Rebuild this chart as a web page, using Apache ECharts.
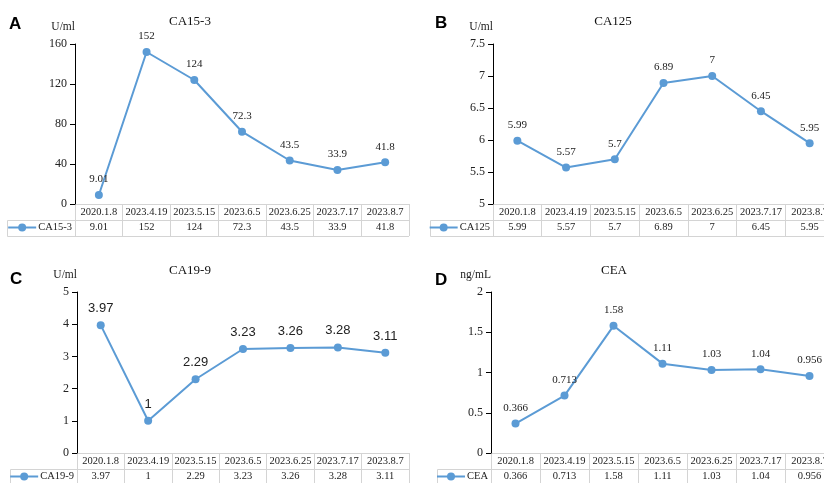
<!DOCTYPE html>
<html>
<head>
<meta charset="utf-8">
<script src="https://cdn.jsdelivr.net/npm/echarts@6/dist/echarts.min.js"></script>
<style>html,body{margin:0;padding:0;background:#fff}#c{width:824px;height:483px}</style>
</head>
<body>
<div id="c"></div>
<script>
// ---- data ----
const dates = ['2020.1.8', '2023.4.19', '2023.5.15', '2023.6.5', '2023.6.25', '2023.7.17', '2023.8.7'];
const ca153 = [9.01, 152, 124, 72.3, 43.5, 33.9, 41.8];
const ca125 = [5.99, 5.57, 5.7, 6.89, 7, 6.45, 5.95];
const ca199 = [3.97, 1, 2.29, 3.23, 3.26, 3.28, 3.11];
const cea = [0.366, 0.713, 1.58, 1.11, 1.03, 1.04, 0.956];
const seriesNames = ['CA15-3', 'CA125', 'CA19-9', 'CEA'];
const units = ['U/ml', 'U/ml', 'U/ml', 'ng/mL'];
const panelLetters = ['A', 'B', 'C', 'D'];
const yMin = [0, 5, 0, 0];
const yMax = [160, 7.5, 5, 2];
const yStep = [40, 0.5, 1, 0.5];

// ---- layout ----
const SERIF = 'Liberation Serif, Times New Roman, serif';
const SANS = 'Liberation Sans, Arial, sans-serif';
const BLUE = '#5b9bd5';
const GRIDC = '#d4d4d4';
const panels = [
  { data: ca153, left: 75, width: 334, top: 44, height: 160, titleX: 190, titleY: 15, letterX: 9, letterY: 16, cellLeft: 7, labelFont: SERIF, labelSize: 11 },
  { data: ca125, left: 493, width: 341, top: 44, height: 160, titleX: 613, titleY: 15, letterX: 435, letterY: 15, cellLeft: 430, labelFont: SERIF, labelSize: 11 },
  { data: ca199, left: 77, width: 332, top: 292, height: 161, titleX: 190, titleY: 264, letterX: 10, letterY: 271, cellLeft: 10, labelFont: SANS, labelSize: 13 },
  { data: cea, left: 491, width: 343, top: 292, height: 161, titleX: 614, titleY: 264, letterX: 435, letterY: 272, cellLeft: 437, labelFont: SERIF, labelSize: 11 }
];
const ROW = 16;

const grid = [], xAxis = [], yAxis = [], series = [], title = [], legend = [], graphic = [];
panels.forEach((p, i) => {
  const g = i * 2;
  grid.push({ left: p.left, width: p.width, top: p.top, height: p.height, outerBoundsMode: 'none', containLabel: false });
  grid.push({ left: p.left, width: p.width, top: p.top + p.height, height: ROW * 2, outerBoundsMode: 'none', containLabel: false });
  // main x axis
  xAxis.push({ type: 'category', gridIndex: g, data: dates, boundaryGap: true,
    axisLine: { show: false }, axisTick: { show: false }, axisLabel: { show: false } });
  // table: dates row
  xAxis.push({ type: 'category', gridIndex: g + 1, data: dates, position: 'top', boundaryGap: true,
    axisLine: { show: false }, axisTick: { show: false },
    splitLine: { show: true, interval: 0, lineStyle: { color: GRIDC, width: 1 } },
    axisLabel: { inside: true, interval: 0, margin: 3, fontFamily: SERIF, fontSize: 10.5, color: '#222' } });
  // table: values row
  xAxis.push({ type: 'category', gridIndex: g + 1, data: p.data.map(v => String(v)), position: 'bottom', boundaryGap: true,
    axisLine: { show: false }, axisTick: { show: false },
    axisLabel: { inside: true, interval: 0, margin: 3, fontFamily: SERIF, fontSize: 10.5, color: '#222' } });
  yAxis.push({ type: 'value', gridIndex: g, min: yMin[i], max: yMax[i], interval: yStep[i],
    name: units[i], nameLocation: 'end', nameGap: 17,
    nameTextStyle: { align: 'right', verticalAlign: 'middle', fontFamily: SERIF, fontSize: 11.5, color: '#222' },
    axisLine: { show: true, lineStyle: { color: '#000', width: 1 } },
    axisTick: { show: true, length: 5, lineStyle: { color: '#000' } },
    splitLine: { show: false },
    axisLabel: { fontFamily: SERIF, fontSize: 12, color: '#222', margin: 8 } });
  yAxis.push({ type: 'value', gridIndex: g + 1, min: 0, max: 2, interval: 1,
    axisLine: { show: false }, axisTick: { show: false }, axisLabel: { show: false },
    splitLine: { show: true, lineStyle: { color: GRIDC, width: 1 } } });
  series.push({ name: seriesNames[i], type: 'line', xAxisIndex: i * 3, yAxisIndex: g, data: p.data,
    symbol: 'circle', symbolSize: 8, lineStyle: { color: BLUE, width: 2 }, itemStyle: { color: BLUE },
    label: { show: true, position: 'top', distance: 6, fontFamily: p.labelFont, fontSize: p.labelSize, color: '#222' },
    animation: false });
  title.push({ text: seriesNames[i], left: p.titleX, top: p.titleY, padding: 0, textAlign: 'center',
    textStyle: { fontFamily: SERIF, fontSize: 13, fontWeight: 'normal', color: '#111' } });
  title.push({ text: panelLetters[i], left: p.letterX, top: p.letterY, padding: 0,
    textStyle: { fontFamily: SANS, fontSize: 17, fontWeight: 'bold', color: '#000' } });
  const rowTop = p.top + p.height + ROW;
  legend.push({ data: [seriesNames[i]], right: 824 - p.left + 3, top: rowTop + 2, padding: 0,
    itemWidth: 28, itemHeight: 10, itemGap: 0,
    textStyle: { fontFamily: SERIF, fontSize: 10.5, color: '#222', padding: [0, 0, 0, -3] } });
  graphic.push({ type: 'rect', shape: { x: p.cellLeft + 0.5, y: rowTop + 0.5, width: p.left - p.cellLeft, height: ROW },
    style: { fill: 'none', stroke: GRIDC, lineWidth: 1 }, silent: true });
});

const chart = echarts.init(document.getElementById('c'), null, { renderer: 'canvas' });
chart.setOption({ animation: false, backgroundColor: '#fff', grid, xAxis, yAxis, series, title, legend, graphic });
</script>
</body>
</html>
